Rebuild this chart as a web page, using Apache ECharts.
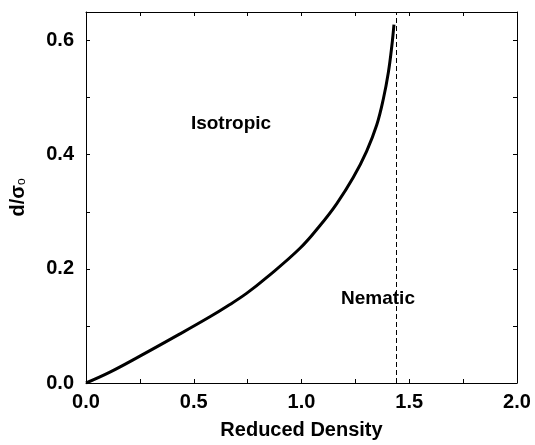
<!DOCTYPE html>
<html>
<head>
<meta charset="utf-8">
<script src="https://cdn.jsdelivr.net/npm/echarts@6/dist/echarts.min.js"></script>
<style>
html,body{margin:0;padding:0;background:#fff;}
#chart{width:535px;height:445px;}
</style>
</head>
<body>
<div id="chart"></div>
<script>
// Reduced density (x) and d/sigma_o (y) along the isotropic-nematic boundary
const densityValues = [0, 0.111, 0.25, 0.436, 0.575, 0.653, 0.745, 0.839, 0.993, 1.086, 1.163, 1.24, 1.302, 1.349, 1.38, 1.403, 1.419, 1.429];
const ratioValues   = [0, 0.019, 0.047, 0.086, 0.116, 0.134, 0.157, 0.185, 0.236, 0.276, 0.314, 0.36, 0.406, 0.452, 0.498, 0.544, 0.59, 0.628];
const dashedLineX = 1.441;
const annotationLabels = ['Isotropic', 'Nematic'];
const annotationX = [0.673, 1.355];
const annotationY = [0.455, 0.148];
const xTickLabels = ['0.0', '0.5', '1.0', '1.5', '2.0'];
const yTickLabels = ['0.0', '0.2', '0.4', '0.6'];

const FONT = '"Liberation Sans", Arial, Helvetica, sans-serif';
const curve = densityValues.map((x, i) => [x, ratioValues[i]]);
const annotations = annotationLabels.map((t, i) => ({ value: [annotationX[i], annotationY[i]], name: t }));

function fmtX(v) {
  const r = Math.round(v * 100) / 100;
  if (Math.abs(r * 2 - Math.round(r * 2)) > 1e-6) return '';
  const s = r.toFixed(1);
  return xTickLabels.indexOf(s) >= 0 ? s : '';
}
function fmtY(v) {
  const r = Math.round(v * 100) / 100;
  const s = r.toFixed(1);
  if (Math.abs(r * 5 - Math.round(r * 5)) > 1e-6) return '';
  return yTickLabels.indexOf(s) >= 0 ? s : '';
}

const tickStyle = { show: true, inside: true, length: 4, lineStyle: { color: '#000', width: 1 } };
const lineStyle = { show: true, onZero: false, lineStyle: { color: '#000', width: 1 } };

const chart = echarts.init(document.getElementById('chart'), null, { renderer: 'canvas' });
chart.setOption({
  backgroundColor: '#fff',
  animation: false,
  grid: { left: 86, right: 18, top: 12, bottom: 56 },
  xAxis: [
    {
      type: 'value', min: 0, max: 2, interval: 0.25, position: 'bottom',
      axisLine: lineStyle, axisTick: tickStyle, splitLine: { show: false },
      axisLabel: { formatter: fmtX, color: '#000', fontFamily: FONT, fontWeight: 'bold', fontSize: 20, margin: 9 },
      name: 'Reduced Density', nameLocation: 'middle', nameGap: 37,
      nameTextStyle: { color: '#000', fontFamily: FONT, fontWeight: 'bold', fontSize: 20 }
    },
    {
      type: 'value', min: 0, max: 2, interval: 0.25, position: 'top',
      axisLine: lineStyle, axisTick: tickStyle, splitLine: { show: false },
      axisLabel: { show: false }
    }
  ],
  yAxis: [
    {
      type: 'value', min: 0, max: 0.65, interval: 0.1, position: 'left',
      axisLine: lineStyle, axisTick: tickStyle, splitLine: { show: false },
      axisLabel: { formatter: fmtY, color: '#000', fontFamily: FONT, fontWeight: 'bold', fontSize: 20, margin: 12, showMaxLabel: false },
      name: '{m|d/σ}{s|o}', nameLocation: 'middle', nameGap: 58, nameRotate: 90,
      nameTextStyle: {
        color: '#000', fontFamily: FONT, fontWeight: 'bold', fontSize: 20,
        rich: {
          m: { fontFamily: FONT, fontWeight: 'bold', fontSize: 20, color: '#000' },
          s: { fontFamily: FONT, fontWeight: 'normal', fontSize: 12, color: '#000', padding: [8, 0, 0, 0] }
        }
      }
    },
    {
      type: 'value', min: 0, max: 0.65, interval: 0.1, position: 'right',
      axisLine: lineStyle, axisTick: tickStyle, splitLine: { show: false },
      axisLabel: { show: false }
    }
  ],
  series: [
    {
      type: 'line', data: curve, smooth: 0.4, showSymbol: false, symbol: 'none',
      lineStyle: { color: '#000', width: 3 },
      markLine: {
        silent: true, symbol: 'none', label: { show: false },
        lineStyle: { color: '#000', width: 1, type: [5, 3] },
        data: [{ xAxis: dashedLineX }]
      },
      z: 3
    },
    {
      type: 'scatter', data: annotations, symbolSize: 0, silent: true,
      itemStyle: { opacity: 1 },
      label: {
        show: true, position: 'inside', formatter: p => p.name,
        color: '#000', fontFamily: FONT, fontWeight: 'bold', fontSize: 19
      },
      z: 4
    }
  ]
});
</script>
</body>
</html>
